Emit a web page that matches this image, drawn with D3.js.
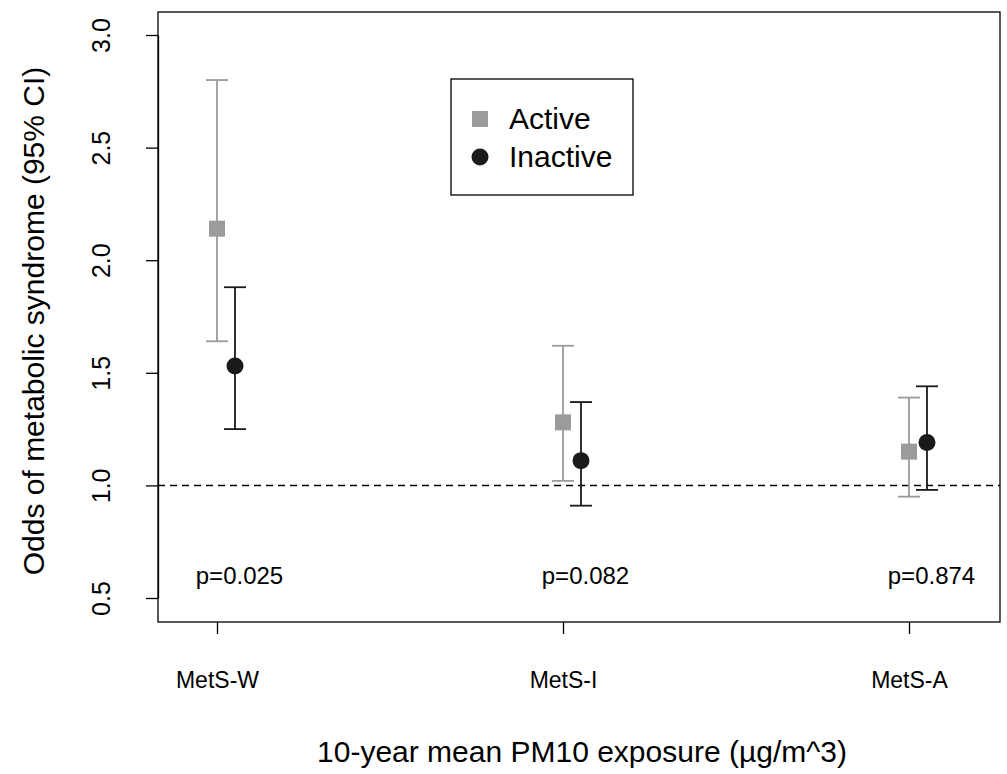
<!DOCTYPE html>
<html><head><meta charset="utf-8">
<script src="https://cdn.jsdelivr.net/npm/d3@7"></script>
<style>body{margin:0;background:#fff}text{font-family:"Liberation Sans",Arial,sans-serif}</style>
</head><body><svg id="c" width="1007" height="774"></svg>
<script>
var categories = ['MetS-W', 'MetS-I', 'MetS-A'];
var pValues = ['p=0.025', 'p=0.082', 'p=0.874'];
var activeOR = [2.14, 1.28, 1.15];
var activeLo = [1.64, 1.02, 0.95];
var activeHi = [2.80, 1.62, 1.39];
var inactiveOR = [1.53, 1.11, 1.19];
var inactiveLo = [1.25, 0.91, 0.98];
var inactiveHi = [1.88, 1.37, 1.44];
var yTicks = [0.5, 1.0, 1.5, 2.0, 2.5, 3.0];

var svg = d3.select('#c');
var L = 158, R = 1000, T = 12, B = 622;
var x = d3.scaleLinear().domain([0.8295, 3.263]).range([L, R]);
var y = d3.scaleLinear().domain([0.5, 3.0]).range([598, 35]);
var off = 0.052;

svg.append('rect').attr('x', L).attr('y', T).attr('width', R - L).attr('height', B - T)
  .attr('fill', 'none').attr('stroke', '#000').attr('stroke-width', 1.3);

var ya = svg.append('g').attr('transform', 'translate(' + L + ',0)')
  .call(d3.axisLeft(y).tickValues(yTicks).tickFormat(d3.format('.1f')).tickSize(12).tickSizeOuter(0));
ya.select('.domain').attr('stroke-width', 1.3);
ya.selectAll('.tick line').attr('stroke-width', 1.3);
ya.selectAll('.tick text').attr('font-size', 25).attr('fill', '#000')
  .attr('transform', 'rotate(-90)')
  .attr('text-anchor', 'middle').attr('x', 0).attr('dy', 0).attr('y', -48);

var xa = svg.append('g').attr('transform', 'translate(0,' + B + ')')
  .call(d3.axisBottom(x).tickValues([1, 2, 3]).tickFormat(function(d) { return categories[d - 1]; }).tickSize(12).tickSizeOuter(0));
xa.select('.domain').remove();
xa.selectAll('.tick line').attr('stroke-width', 1.3);
xa.selectAll('.tick text').attr('font-size', 23).attr('fill', '#000').attr('y', 50);

svg.append('line').attr('x1', L).attr('x2', R).attr('y1', y(1)).attr('y2', y(1))
  .attr('stroke', '#000').attr('stroke-width', 1.5).attr('stroke-dasharray', '7,5');

function series(or, lo, hi, dx, col, shape) {
  var g = svg.append('g');
  categories.forEach(function(c, i) {
    var cx = x(i + 1 + dx);
    g.append('line').attr('x1', cx).attr('x2', cx).attr('y1', y(lo[i])).attr('y2', y(hi[i])).attr('stroke', col).attr('stroke-width', 1.8);
    [lo[i], hi[i]].forEach(function(v) {
      g.append('line').attr('x1', cx - 11).attr('x2', cx + 11).attr('y1', y(v)).attr('y2', y(v)).attr('stroke', col).attr('stroke-width', 1.8);
    });
    if (shape === 'sq') g.append('rect').attr('x', cx - 8).attr('y', y(or[i]) - 8).attr('width', 16).attr('height', 16).attr('fill', col);
    else g.append('circle').attr('cx', cx).attr('cy', y(or[i])).attr('r', 8.5).attr('fill', col);
  });
}
series(activeOR, activeLo, activeHi, 0, '#9b9b9b', 'sq');
series(inactiveOR, inactiveLo, inactiveHi, off, '#1a1a1a', 'ci');

svg.selectAll('.pv').data(pValues).enter().append('text')
  .attr('x', function(d, i) { return x(i + 1.065); }).attr('y', y(0.6) + 9)
  .attr('text-anchor', 'middle').attr('font-size', 24).text(function(d) { return d; });

var lg = svg.append('g');
lg.append('rect').attr('x', 451).attr('y', 79).attr('width', 182).attr('height', 116).attr('fill', '#fff').attr('stroke', '#000').attr('stroke-width', 1.3);
lg.append('rect').attr('x', 472).attr('y', 111).attr('width', 16).attr('height', 16).attr('fill', '#9b9b9b');
lg.append('circle').attr('cx', 480).attr('cy', 157).attr('r', 8.5).attr('fill', '#1a1a1a');
lg.append('text').attr('x', 509).attr('y', 129).attr('font-size', 30).text('Active');
lg.append('text').attr('x', 509).attr('y', 167).attr('font-size', 30).text('Inactive');

svg.append('text').attr('transform', 'translate(44,' + ((T + B) / 2 + 4) + ') rotate(-90)')
  .attr('text-anchor', 'middle').attr('font-size', 30).text('Odds of metabolic syndrome (95% CI)');
svg.append('text').attr('x', 582).attr('y', 762).attr('text-anchor', 'middle')
  .attr('font-size', 30).text('10-year mean PM10 exposure (µg/m^3)');
</script></body></html>
